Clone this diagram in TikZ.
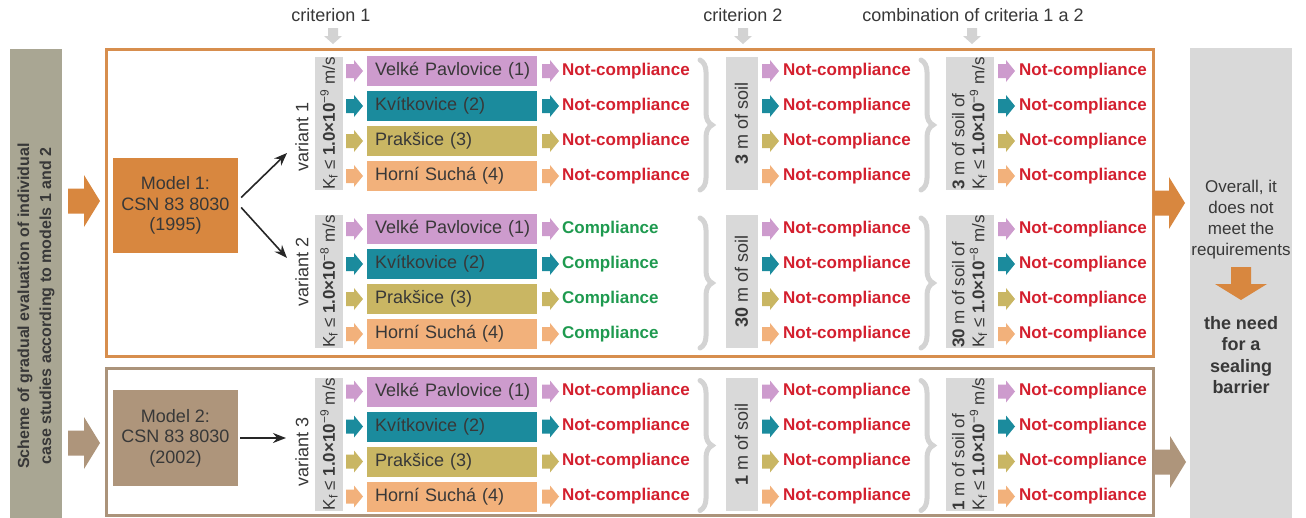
\documentclass[tikz,border=0pt]{standalone}
\usepackage{fontspec}
\setmainfont{Liberation Sans}
\usetikzlibrary{decorations.pathreplacing,arrows.meta}
\definecolor{orangeM}{HTML}{D8873F}
\definecolor{orangeF}{HTML}{D78E4E}
\definecolor{brownM}{HTML}{AE957B}
\definecolor{brownF}{HTML}{AB937A}
\definecolor{leftbox}{HTML}{A9A693}
\definecolor{greybox}{HTML}{D9D9D9}
\definecolor{bracec}{HTML}{D3D3D3}
\definecolor{txt}{HTML}{383838}
\definecolor{redT}{HTML}{D41F2E}
\definecolor{greenT}{HTML}{1E9A4F}
\definecolor{cP}{HTML}{CD9BCD}
\definecolor{cT}{HTML}{1B8B9D}
\definecolor{cO}{HTML}{C9B663}
\definecolor{cA}{HTML}{F2B17B}
\begin{document}
\begin{tikzpicture}[x=1pt,y=-1pt,
  loc/.style={minimum width=170pt, minimum height=30pt, inner xsep=4pt, inner ysep=0pt, text width=162pt, align=left, text=txt, font=\fontsize{18}{20}\selectfont, anchor=west},
  res/.style={anchor=west, inner sep=0pt, font=\fontsize{17}{20}\selectfont\bfseries},
  gbox/.style={fill=greybox, rotate=90, inner sep=0pt, text=txt, font=\fontsize{17}{20}\selectfont},
  hdr/.style={text=txt, font=\fontsize{18}{20}\selectfont, inner sep=0pt},
  brc/.style={draw=bracec, line width=5pt, line cap=round, decorate, decoration={brace, amplitude=12pt}},
  link/.style={-{Stealth[length=13pt,width=10pt]}, line width=1.6pt, draw=black!85},
  sarrow/.pic={\fill[#1] (0,-7) -- (8,-7) -- (8,-11) -- (17,0) -- (8,11) -- (8,7) -- (0,7) -- cycle;},
  bigarrow/.pic={\fill[#1] (0,-12.5) -- (16,-12.5) -- (16,-26) -- (32,0) -- (16,26) -- (16,12.5) -- (0,12.5) -- cycle;},
  hdarrow/.pic={\fill[bracec] (-5,0) -- (5,0) -- (5,8) -- (9,8) -- (0,16) -- (-9,8) -- (-5,8) -- cycle;}
]
\useasboundingbox[fill=white] (0,0) rectangle (1306,517);

% left and right grey boxes
\node[fill=leftbox, rotate=90, minimum width=514pt, minimum height=52pt, inner sep=0pt, align=center, text=txt,
  font=\fontsize{16}{22}\selectfont\bfseries] (lt) at (36,306)
  {Scheme of gradual evaluation of individual\\case studies according to models 1 and 2};
\node[fill=greybox, minimum width=102pt, minimum height=520pt, inner sep=0pt, anchor=north] (rb) at (1241,48) {};

% frames
\draw[orangeF, line width=3pt] (106,49) rectangle (1153,356);
\draw[brownF, line width=3pt] (106,368) rectangle (1153,515);

% big arrows
\pic at (68,201) {bigarrow=orangeM};
\pic at (1153,203) {bigarrow=orangeM};
\pic at (68,443) {bigarrow=brownM};
\pic at (1154,462) {bigarrow=brownM};

% headers
\node[hdr] (h1) at (331,15) {criterion 1};
\node[hdr] (h2) at (743,15) {criterion 2};
\node[hdr] (h3) at (973,15) {combination of criteria 1 a 2};
\pic at (333,28) {hdarrow};
\pic at (743,28) {hdarrow};
\pic at (972,28) {hdarrow};

% models
\node[fill=orangeM, minimum width=125pt, minimum height=95pt, inner sep=0pt, align=center, text=txt,
  font=\fontsize{18}{20.5}\selectfont] (m1) at (175.5,205.5) {Model 1:\\CSN 83 8030\\(1995)};
\node[fill=brownM, minimum width=125pt, minimum height=96pt, inner sep=0pt, align=center, text=txt,
  font=\fontsize{18}{20.5}\selectfont] (m2) at (175.5,438) {Model 2:\\CSN 83 8030\\(2002)};

% variant labels
\node[hdr, rotate=90] (v1) at (302,137) {variant 1};
\node[hdr, rotate=90] (v2) at (302,272) {variant 2};
\node[hdr, rotate=90] (v3) at (302,452) {variant 3};
\coordinate (t1) at (287,153);
\coordinate (t2) at (287,258);
\coordinate (t3) at (286,438);
\draw[link] ([xshift=3pt,yshift=8pt]m1.east) -- (t1);
\draw[link] ([xshift=3pt,yshift=-2pt]m1.east) -- (t2);
\draw[link] ([xshift=2pt]m2.east) -- (t3);

% groups
\foreach \grp/\ystart/\rtxt/\rcol/\nm/\expo in {1/71/Not-compliance/redT/3/9, 2/229/Compliance/greenT/30/8, 3/391.5/Not-compliance/redT/1/9} {
  \pgfmathsetmacro\yk{\ystart+52.5}
  \pgfmathsetmacro\ya{\ystart-11}
  \pgfmathsetmacro\yb{\ystart+119}
  \node[gbox, minimum width=133pt, minimum height=28pt] (K\grp) at (329,\yk)
    {K\textsubscript{f} ≤ \textbf{1.0×10}\textsuperscript{−\expo} m/s};
  \node[gbox, minimum width=133pt, minimum height=32pt, font=\fontsize{18}{20}\selectfont] (C\grp) at (741.5,\yk)
    {\textbf{\nm} m of soil};
  \node[gbox, minimum width=133pt, minimum height=48pt, align=left] (B\grp) at (969.5,\yk)
    {\textbf{\nm} m of soil of\\K\textsubscript{f} ≤ \textbf{1.0×10}\textsuperscript{−\expo} m/s};
  \draw[brc] (700,\ya) -- (700,\yb);
  \draw[brc] (921,\ya) -- (921,\yb);
  \foreach \ri/\col/\lname in {0/cP/Velké Pavlovice (1), 1/cT/Kvítkovice (2), 2/cO/Prakšice (3), 3/cA/Horní Suchá (4)} {
    \pgfmathsetmacro\yy{\ystart+35*\ri}
    \pic at (346,\yy) {sarrow=\col};
    \node[loc, fill=\col] (L\grp\ri) at (367,\yy) {\hspace*{4pt}\lname};
    \pic at (542,\yy) {sarrow=\col};
    \node[res, text=\rcol] (R\grp\ri) at (562,\yy) {\rtxt};
    \pic at (762,\yy) {sarrow=\col};
    \node[res, text=redT] (S\grp\ri) at (783,\yy) {Not-compliance};
    \pic at (998,\yy) {sarrow=\col};
    \node[res, text=redT] (T\grp\ri) at (1019,\yy) {Not-compliance};
  }
}

% right box text
\node[text=txt, align=center, inner sep=0pt, font=\fontsize{17}{21}\selectfont] (ov) at (1241,220)
  {Overall, it\\does not\\meet the\\requirements};
\fill[orangeM] (1231,267) -- (1251,267) -- (1251,284) -- (1267,284) -- (1241,300) -- (1215,284) -- (1231,284) -- cycle;
\node[text=txt, align=center, inner sep=0pt, font=\fontsize{18}{21.5}\selectfont\bfseries] (nd) at (1241,355)
  {the need\\for a\\sealing\\barrier};
\end{tikzpicture}
\end{document}
